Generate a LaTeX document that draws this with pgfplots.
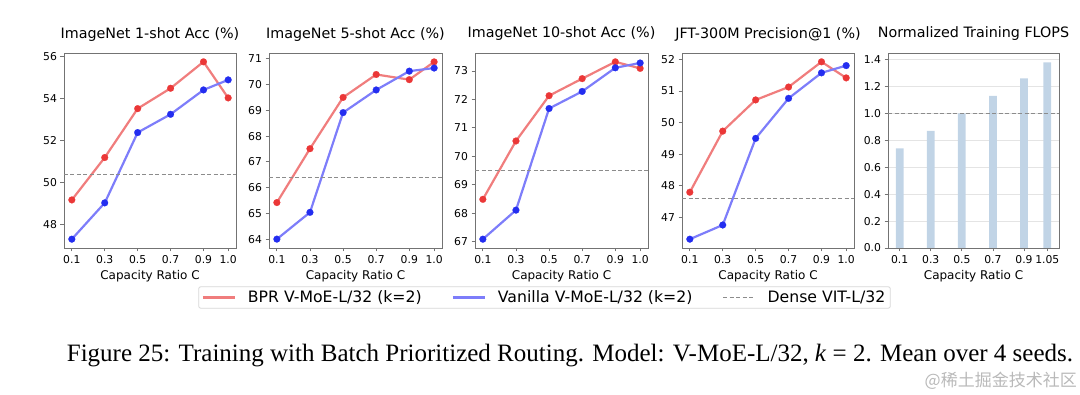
\documentclass[border=0pt]{standalone}
\usepackage{pgfplots}
\pgfplotsset{compat=1.18}
\usepackage{fontspec}
\setmainfont{DejaVu Sans}
\newfontfamily\capfont{Liberation Serif}
\newfontfamily\cjk{Noto Sans CJK SC}

\definecolor{bprline}{RGB}{240,125,125}
\definecolor{bprmark}{RGB}{235,55,55}
\definecolor{vanline}{RGB}{125,125,250}
\definecolor{vanmark}{RGB}{35,45,240}
\definecolor{densec}{RGB}{140,140,140}
\definecolor{spine}{RGB}{115,115,115}
\definecolor{barc}{RGB}{193,212,230}
\definecolor{gridc}{RGB}{228,228,228}
\definecolor{legframe}{RGB}{215,215,215}
\definecolor{wm}{RGB}{185,185,185}

\pgfplotsset{
  panel/.style={
    scale only axis, width=172pt, height=195pt,
    axis line style={spine, line width=0.9pt},
    tick align=outside, xtick pos=bottom, ytick pos=left,
    major tick length=3.5pt,
    every tick/.style={spine, line width=0.8pt},
    ticklabel style={font=\fontsize{10.8}{12}\selectfont},
    /pgf/number format/assume math mode=true,
    xtick={0.1,0.3,0.5,0.7,0.9,1.05},
    xticklabels={0.1,0.3,0.5,0.7,0.9,1.0},
    xmin=0.0525, xmax=1.0975,
    xlabel={Capacity Ratio C},
    xlabel style={font=\fontsize{12}{14}\selectfont},
    title style={font=\fontsize{14.3}{16}\selectfont, at={(0.5,1)}, anchor=base, yshift=9pt},
  },
  bpr/.style={color=bprline, line width=2.2pt, mark=*, mark size=3.4pt,
    mark options={draw=bprmark, fill=bprmark, line width=0.2pt}},
  van/.style={color=vanline, line width=2.2pt, mark=*, mark size=3.4pt,
    mark options={draw=vanmark, fill=vanmark, line width=0.2pt}},
  dense/.style={color=densec, line width=1.1pt, dash pattern=on 4pt off 2.5pt},
}

\pgfplotstableread{
x     bpr    van
0.1   49.16  47.29
0.3   51.18  49.02
0.5   53.51  52.37
0.7   54.48  53.24
0.9   55.74  54.40
1.05  54.02  54.88
}\tabA
\pgfplotstableread{
x     bpr    van
0.1   65.42  64.00
0.3   67.51  65.04
0.5   69.50  68.91
0.7   70.39  69.79
0.9   70.19  70.52
1.05  70.88  70.64
}\tabB
\pgfplotstableread{
x     bpr    van
0.1   68.49  67.09
0.3   70.54  68.11
0.5   72.13  71.68
0.7   72.73  72.28
0.9   73.32  73.11
1.05  73.09  73.28
}\tabC
\pgfplotstableread{
x     bpr    van
0.1   47.79  46.30
0.3   49.73  46.75
0.5   50.72  49.50
0.7   51.13  50.77
0.9   51.93  51.58
1.05  51.42  51.81
}\tabD
\pgfplotstableread{
x     flops
0.1   0.74
0.3   0.87
0.5   1.00
0.7   1.13
0.9   1.26
1.05  1.38
}\tabE

\begin{document}
\begin{tikzpicture}
\path[use as bounding box] (0pt,0pt) rectangle (1080pt,394pt);

% Panel 1
\begin{axis}[panel, at={(64pt,146pt)}, anchor=south west,
  title={ImageNet 1-shot Acc (\%)},
  ymin=46.87, ymax=56.16, ytick={48,50,52,54,56},
  legend columns=3,
  legend image code/.code={\draw[#1] (0pt,0pt) -- (32pt,0pt);},
  legend style={at={(2.7936,-0.2538)}, anchor=center, draw=legframe, line width=0.8pt,
    rounded corners=2pt, font=\fontsize{15.7}{18}\selectfont,
    inner xsep=3pt, inner ysep=2pt,
    /tikz/every odd column/.append style={column sep=10pt},
    /tikz/every even column/.append style={column sep=28pt}},
]
\addplot[bpr] table[x=x, y=bpr] {\tabA};
\addlegendentry{BPR V-MoE-L/32 (k=2)}
\addplot[van] table[x=x, y=van] {\tabA};
\addlegendentry{Vanilla V-MoE-L/32 (k=2)}
\addplot[dense] coordinates {(0.0525,50.39) (1.0975,50.39)};
\addlegendentry{Dense VIT-L/32}
\end{axis}

% Panel 2
\begin{axis}[panel, width=173pt, at={(269pt,146pt)}, anchor=south west,
  title={ImageNet 5-shot Acc (\%)},
  ymin=63.656, ymax=71.224, ytick={64,65,66,67,68,69,70,71},
]
\addplot[bpr] table[x=x, y=bpr] {\tabB};
\addplot[van] table[x=x, y=van] {\tabB};
\addplot[dense] coordinates {(0.0525,66.38) (1.0975,66.38)};
\end{axis}

% Panel 3
\begin{axis}[panel, width=173pt, at={(475pt,146pt)}, anchor=south west,
  title={ImageNet 10-shot Acc (\%)},
  ymin=66.78, ymax=73.63, ytick={67,68,69,70,71,72,73},
]
\addplot[bpr] table[x=x, y=bpr] {\tabC};
\addplot[van] table[x=x, y=van] {\tabC};
\addplot[dense] coordinates {(0.0525,69.51) (1.0975,69.51)};
\end{axis}

% Panel 4
\begin{axis}[panel, at={(682pt,146pt)}, anchor=south west,
  title={JFT-300M Precision@1 (\%)},
  ymin=46.02, ymax=52.21, ytick={46,47,48,49,50,51,52},
]
\addplot[bpr] table[x=x, y=bpr] {\tabD};
\addplot[van] table[x=x, y=van] {\tabD};
\addplot[dense] coordinates {(0.0525,47.58) (1.0975,47.58)};
\end{axis}

% Panel 5
\begin{axis}[panel, width=171pt, at={(888pt,146pt)}, anchor=south west,
  title={Normalized Training FLOPS},
  xmin=0.025, xmax=1.125,
  xticklabels={0.1,0.3,0.5,0.7,0.9,1.05},
  ymin=0, ymax=1.449, ytick={0,0.2,0.4,0.6,0.8,1.0,1.2,1.4},
  yticklabel style={/pgf/number format/.cd, fixed, fixed zerofill, precision=1},
  ymajorgrids, grid style={gridc, line width=0.8pt},
]
\addplot[ybar, bar width=0.05, fill=barc, draw=none] table[x=x, y=flops] {\tabE};
\addplot[dense] coordinates {(0.025,1.0) (1.125,1.0)};
\end{axis}

% Caption
\node[anchor=base, inner sep=0pt] at (570pt,32pt)
  {\capfont\fontsize{25}{30}\selectfont Figure 25: Training with Batch Prioritized Routing. Model: V-MoE-L/32, \textit{k} = 2. Mean over 4 seeds.};
% Watermark
\node[anchor=base east, inner sep=0pt, text=wm] at (1077pt,8pt)
  {\cjk\fontsize{17}{20}\selectfont @稀土掘金技术社区};
\end{tikzpicture}
\end{document}
